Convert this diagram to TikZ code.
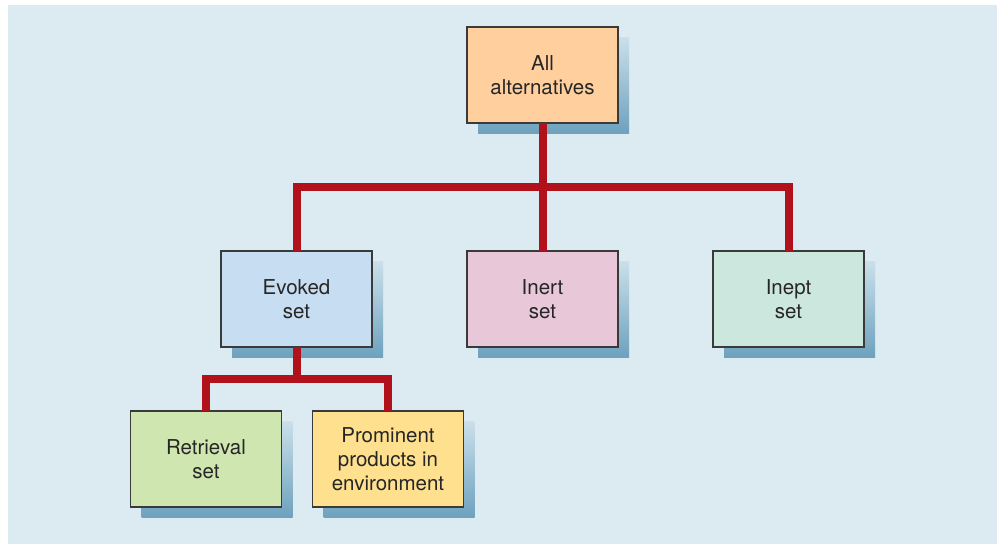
\documentclass[tikz,border=0pt]{standalone}
\usepackage{fontspec}
\setmainfont{TeX Gyre Heros}
\usetikzlibrary{positioning, calc}
\definecolor{panelblue}{HTML}{DCEAF1}
\definecolor{linkred}{HTML}{B0111A}
\definecolor{edgegray}{HTML}{3A3A3A}
\definecolor{shadetop}{HTML}{CADFEA}
\definecolor{shadebot}{HTML}{6CA1BD}
\definecolor{allorange}{HTML}{FFD09D}
\definecolor{evokedblue}{HTML}{C7DDF2}
\definecolor{inertpink}{HTML}{E8C7D8}
\definecolor{ineptmint}{HTML}{CCE7DD}
\definecolor{retrgreen}{HTML}{D0E6B0}
\definecolor{promyellow}{HTML}{FFE08E}
\tikzset{
    setbox/.style={rectangle, draw=edgegray, line width=1.5pt, minimum width=151pt, minimum height=96pt,
        inner sep=0pt, outer sep=0pt, align=center, text=black!85, font=\fontsize{20.5}{24}\selectfont,
        preaction={draw=none, top color=shadetop, bottom color=shadebot,
            transform canvas={shift={(11pt,-11pt)}}}},
    allbox/.style={setbox, fill=allorange},
    evokedbox/.style={setbox, fill=evokedblue},
    inertbox/.style={setbox, fill=inertpink},
    ineptbox/.style={setbox, fill=ineptmint},
    retrbox/.style={setbox, fill=retrgreen},
    prombox/.style={setbox, fill=promyellow},
    link/.style={draw=linkred, line width=8pt, line join=miter}
}
\begin{document}
\begin{tikzpicture}[x=1pt, y=1pt]
        \useasboundingbox (0,0) rectangle (997,544);
        \fill[panelblue] (8,0) rectangle (997,539);
        \node[allbox] (all) at (542.5,469) {All\\alternatives};
        \node[evokedbox, below left=128pt and 95pt of all] (evoked) {Evoked\\set};
        \node[inertbox, below=128pt of all] (inert) {Inert\\set};
        \node[ineptbox, below right=128pt and 95pt of all] (inept) {Inept\\set};
        \node[retrbox, below left=64pt and 15pt of evoked.south] (retrieval) {Retrieval\\set};
        \node[prombox, below right=64pt and 16pt of evoked.south] (prominent) {Prominent\\products in\\environment};
        \coordinate (topbar) at ($(all.south)!0.5!(inert.north)$);
        \coordinate (lowbar) at ($(evoked.south)!0.5!(retrieval.north -| evoked.south)$);
        \draw[link] (all.south) -- (inert.north);
        \draw[link] (evoked.north) |- (topbar) -| (inept.north);
        \draw[link] (evoked.south) -- (lowbar);
        \draw[link] (retrieval.north) |- (lowbar) -| (prominent.north);
    \end{tikzpicture}
\end{document}
